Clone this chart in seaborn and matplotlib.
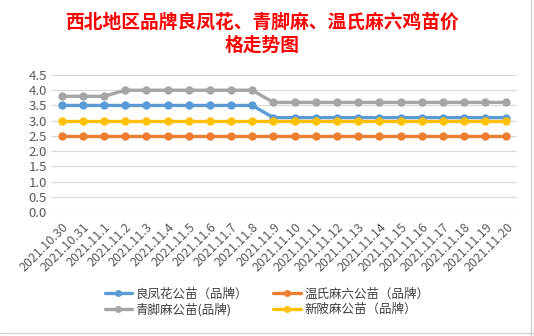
import matplotlib
matplotlib.use("Agg")
import matplotlib.pyplot as plt
import seaborn as sns
import pandas as pd
from matplotlib.lines import Line2D

dates = ["2021.10.30", "2021.10.31", "2021.11.1", "2021.11.2", "2021.11.3", "2021.11.4",
         "2021.11.5", "2021.11.6", "2021.11.7", "2021.11.8", "2021.11.9", "2021.11.10",
         "2021.11.11", "2021.11.12", "2021.11.13", "2021.11.14", "2021.11.15", "2021.11.16",
         "2021.11.17", "2021.11.18", "2021.11.19", "2021.11.20"]
liangfenghua = [3.5] * 10 + [3.1] * 12
wenshi = [2.5] * 22
qingjiao = [3.8, 3.8, 3.8] + [4.0] * 7 + [3.6] * 12
xinpi = [3.0] * 22

names = ["良凤花公苗（品牌）", "温氏麻六公苗（品牌）", "青脚麻公苗(品牌)", "新陂麻公苗（品牌）"]
values = [liangfenghua, wenshi, qingjiao, xinpi]
colors = ["#5B9BD5", "#ED7D31", "#A5A5A5", "#FFC000"]
yticks = [0.0, 0.5, 1.0, 1.5, 2.0, 2.5, 3.0, 3.5, 4.0, 4.5]

sns.set_style("white")
plt.rcParams['font.family'] = ['Noto Sans CJK SC', 'DejaVu Sans']

rows = []
for n, v in zip(names, values):
    for i, val in enumerate(v):
        rows.append({"idx": i, "value": val, "series": n})
df = pd.DataFrame(rows)

fig = plt.figure(figsize=(5.34, 3.36), dpi=100)
ax = fig.add_axes([51 / 534, 1 - 212 / 336, 466 / 534, 137 / 336])

# draw order: gray, blue, orange, yellow on top
order = [2, 0, 1, 3]
for k in order:
    sub = df[df["series"] == names[k]]
    sns.lineplot(data=sub, x="idx", y="value", ax=ax, color=colors[k], linewidth=2.4,
                 marker="o", markersize=6, markeredgewidth=0, legend=False)

ax.set_xlim(-0.5, len(dates) - 0.5)
ax.set_ylim(0, 4.5)
ax.set_yticks(yticks)
ax.set_yticklabels([f"{t:.1f}" for t in yticks], color="#595959", fontsize=9.5)
ax.set_xticks(range(len(dates)))
ax.set_xticklabels(dates, rotation=45, ha="right", rotation_mode="anchor",
                   color="#595959", fontsize=9)
ax.tick_params(axis="both", length=0, pad=3)
ax.tick_params(axis="x", pad=6)
ax.grid(axis="y", color="#D9D9D9", linewidth=0.9)
ax.set_xlabel("")
ax.set_ylabel("")
for s in ax.spines.values():
    s.set_visible(False)

fig.text(0.49, 1 - 22 / 336, "西北地区品牌良凤花、青脚麻、温氏麻六鸡苗价", color="red",
         fontsize=13.5, fontweight="bold", ha="center", va="center")
fig.text(0.49, 1 - 45 / 336, "格走势图", color="red",
         fontsize=13.5, fontweight="bold", ha="center", va="center")

handles = []
for k in [0, 2, 1, 3]:
    handles.append(Line2D([0], [0], color=colors[k], linewidth=2.4, marker="o",
                          markersize=5, markeredgewidth=0, label=names[k]))
fig.legend(handles=handles, ncol=2, loc="center", bbox_to_anchor=(0.5, 1 - 302 / 336),
           frameon=False, fontsize=9, handlelength=2.2, columnspacing=2.0,
           labelspacing=0.2, handletextpad=0.3, labelcolor="#404040")

# chart border lines
fig.add_artist(Line2D([531 / 534, 531 / 534], [0, 1], color="#D0D0D0", linewidth=1,
                      transform=fig.transFigure))
fig.add_artist(Line2D([0, 1], [3 / 336, 3 / 336], color="#D0D0D0", linewidth=1,
                      transform=fig.transFigure))

fig.savefig("out.png", dpi=100)
